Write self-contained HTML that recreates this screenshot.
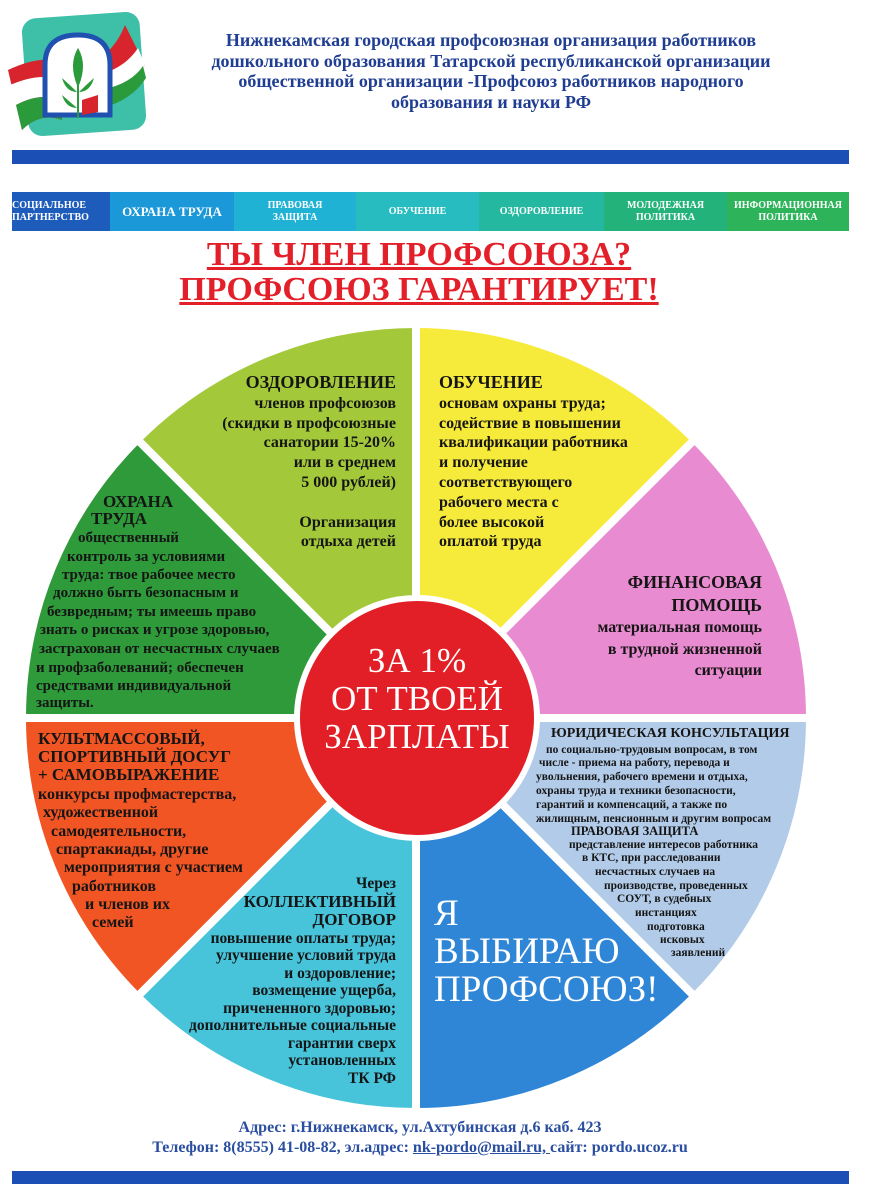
<!DOCTYPE html>
<html><head><meta charset="utf-8">
<style>
body{margin:0;width:873px;height:1200px;background:#fff;position:relative;overflow:hidden;font-family:"Liberation Serif",serif;font-weight:bold;color:#151515}
.a{position:absolute;white-space:nowrap}
.t{position:absolute;white-space:nowrap;font-size:15px;line-height:18px}
.tab{position:absolute;top:192px;height:39px;color:#fff;font-size:10px;line-height:12px;text-align:center;display:flex;align-items:center;justify-content:center}
</style></head><body>
<svg class="a" style="left:0;top:0" width="160" height="140" viewBox="0 0 160 140">
<rect x="25" y="15" width="118" height="118" rx="14" fill="#3dbfa8" transform="rotate(-4 84 74)"/>
<path d="M8 70 Q40 55 60 62 L62 120 Q40 112 22 130 Z" fill="#d8242c"/>
<path d="M10 85 Q40 72 60 80 L60 100 Q40 92 16 105 Z" fill="#fff"/>
<path d="M16 105 Q40 92 60 100 L62 120 Q40 112 22 130 Z" fill="#2a9a3a"/>
<path d="M96 60 Q115 50 125 25 L145 65 Q130 90 100 95 Z" fill="#d8242c"/>
<path d="M98 75 Q125 68 138 48 L145 65 Q130 90 100 95 Z" fill="#fff"/>
<path d="M100 90 Q130 85 143 66 L146 78 Q132 100 102 108 Z" fill="#2a9a3a"/>
<path d="M45 115 L45 65 Q45 35 78 35 Q110 35 110 65 L110 115 Z" fill="#fff" stroke="#2050b0" stroke-width="5"/>
<path d="M78 50 Q70 65 78 85 Q86 65 78 50 Z M78 85 L78 118" fill="#2a9a3a" stroke="#2a9a3a" stroke-width="2"/>
<path d="M62 78 Q70 85 77 92 Q66 92 62 78 Z M94 78 Q86 85 79 92 Q90 92 94 78 Z M62 95 Q70 102 77 108 Q66 108 62 95 Z" fill="#2a9a3a"/>
<path d="M82 100 L98 95 L98 112 L82 115 Z" fill="#d8242c"/>
</svg>
<div class="a" style="left:191px;top:30px;width:600px;text-align:center;color:#1f3d92;font-size:18px;line-height:20.5px">Нижнекамская городская профсоюзная организация работников<br>дошкольного образования Татарской республиканской организации<br>общественной организации -Профсоюз работников народного<br>образования и науки РФ</div>
<div class="a" style="left:12px;top:150px;width:837px;height:14px;background:#1b4fb6"></div>
<div class="tab" style="left:12px;width:98px;background:#1e5cbc;justify-content:flex-start;text-align:left">СОЦИАЛЬНОЕ<br>ПАРТНЕРСТВО</div>
<div class="tab" style="left:110px;width:124px;background:#1a98d8;font-size:13px">ОХРАНА ТРУДА</div>
<div class="tab" style="left:234px;width:122px;background:#1fb2d4">ПРАВОВАЯ<br>ЗАЩИТА</div>
<div class="tab" style="left:356px;width:123px;background:#26bcc0">ОБУЧЕНИЕ</div>
<div class="tab" style="left:479px;width:125px;background:#25b8a0">ОЗДОРОВЛЕНИЕ</div>
<div class="tab" style="left:604px;width:123px;background:#22b27a">МОЛОДЕЖНАЯ<br>ПОЛИТИКА</div>
<div class="tab" style="left:727px;width:122px;background:#2db45a">ИНФОРМАЦИОННАЯ<br>ПОЛИТИКА</div>
<div class="a" style="left:0;width:838px;top:238px;text-align:center;color:#e3202a;font-size:34px;line-height:34px;text-decoration:underline">ТЫ ЧЛЕН ПРОФСОЮЗА?</div>
<div class="a" style="left:0;width:838px;top:273px;text-align:center;color:#e3202a;font-size:34px;line-height:34px;text-decoration:underline">ПРОФСОЮЗ ГАРАНТИРУЕТ!</div>

<svg class="a" style="left:0;top:0" width="873" height="1200">
<g stroke="#fff" stroke-width="8" stroke-linejoin="round">
<path d="M416 718 L416 324 A394 394 0 0 1 694.6 439.4 Z" fill="#f6ea3a"/>
<path d="M416 718 L694.6 439.4 A394 394 0 0 1 810 718 Z" fill="#e98bd0"/>
<path d="M416 718 L810 718 A394 394 0 0 1 694.6 996.6 Z" fill="#b2cbe8"/>
<path d="M416 718 L694.6 996.6 A394 394 0 0 1 416 1112 Z" fill="#2f86d6"/>
<path d="M416 718 L416 1112 A394 394 0 0 1 137.4 996.6 Z" fill="#47c3da"/>
<path d="M416 718 L137.4 996.6 A394 394 0 0 1 22 718 Z" fill="#f05523"/>
<path d="M416 718 L22 718 A394 394 0 0 1 137.4 439.4 Z" fill="#2e9a3a"/>
<path d="M416 718 L137.4 439.4 A394 394 0 0 1 416 324 Z" fill="#a3c83a"/>
</g>
<circle cx="417" cy="718" r="120" fill="#e21f26" stroke="#fff" stroke-width="6"/>
</svg>

<div class="a" style="left:317px;width:200px;top:642px;text-align:center;color:#fff;font-weight:normal;font-size:35px;line-height:38px">ЗА 1%<br>ОТ ТВОЕЙ<br>ЗАРПЛАТЫ</div>

<div class="t" style="right:477px;top:373px;text-align:right;font-size:16px;line-height:19.8px"><span style="font-size:18px">ОЗДОРОВЛЕНИЕ</span><br>членов профсоюзов<br>(скидки в профсоюзные<br>санатории 15-20%<br>или в среднем<br>5 000 рублей)<br>&nbsp;<br>Организация<br>отдыха детей</div>
<div class="t" style="left:439px;top:373px;font-size:16px;line-height:19.8px"><span style="font-size:18px">ОБУЧЕНИЕ</span><br>основам охраны труда;<br>содействие в повышении<br>квалификации работника<br>и получение<br>соответствующего<br>рабочего места с<br>более высокой<br>оплатой труда</div>

<div class="t" style="left:103px;top:493px;font-size:17px">ОХРАНА</div>
<div class="t" style="left:91px;top:510px;font-size:17px">ТРУДА</div>
<div class="t" style="left:78px;top:529px">общественный</div>
<div class="t" style="left:67px;top:548px">контроль за условиями</div>
<div class="t" style="left:62px;top:566px">труда: твое рабочее место</div>
<div class="t" style="left:53px;top:584px">должно быть безопасным и</div>
<div class="t" style="left:47px;top:603px">безвредным; ты имеешь право</div>
<div class="t" style="left:40px;top:621px">знать о рисках и угрозе здоровью,</div>
<div class="t" style="left:39px;top:640px">застрахован от несчастных случаев</div>
<div class="t" style="left:36px;top:659px">и профзаболеваний; обеспечен</div>
<div class="t" style="left:36px;top:677px">средствами индивидуальной</div>
<div class="t" style="left:36px;top:694px">защиты.</div>

<div class="t" style="right:111px;top:572px;text-align:right;font-size:16px;line-height:21.5px"><span style="font-size:18px">ФИНАНСОВАЯ<br>ПОМОЩЬ</span><br>материальная помощь<br>в трудной жизненной<br>ситуации</div>

<div class="t" style="left:38px;top:730px;font-size:17px;line-height:18px">КУЛЬТМАССОВЫЙ,<br>СПОРТИВНЫЙ ДОСУГ<br>+ САМОВЫРАЖЕНИЕ</div>
<div class="t" style="left:38px;top:786px;font-size:16px">конкурсы профмастерства,</div>
<div class="t" style="left:43px;top:804px;font-size:16px">художественной</div>
<div class="t" style="left:51px;top:823px;font-size:16px">самодеятельности,</div>
<div class="t" style="left:56px;top:841px;font-size:16px">спартакиады, другие</div>
<div class="t" style="left:64px;top:859px;font-size:16px">мероприятия с участием</div>
<div class="t" style="left:72px;top:878px;font-size:16px">работников</div>
<div class="t" style="left:85px;top:896px;font-size:16px">и членов их</div>
<div class="t" style="left:92px;top:914px;font-size:16px">семей</div>

<div class="t" style="right:477px;top:875px;text-align:right;font-size:15.5px;line-height:17.5px">Через<br><span style="font-size:17px">КОЛЛЕКТИВНЫЙ<br>ДОГОВОР</span><br>повышение оплаты труда;<br>улучшение условий труда<br>и оздоровление;<br>возмещение ущерба,<br>причененного здоровью;<br>дополнительные социальные<br>гарантии сверх<br>установленных<br>ТК РФ</div>

<div class="a" style="left:434px;top:895px;color:#fff;font-weight:normal;font-size:37px;line-height:38px">Я<br>ВЫБИРАЮ<br>ПРОФСОЮЗ!</div>

<div class="t" style="left:551px;top:726px;font-size:14px;line-height:16px">ЮРИДИЧЕСКАЯ КОНСУЛЬТАЦИЯ</div>
<div class="t" style="left:546px;top:743px;font-size:11.5px;line-height:14px">по социально-трудовым вопросам, в том</div>
<div class="t" style="left:539px;top:756px;font-size:11.5px;line-height:14px">числе - приема на работу, перевода и</div>
<div class="t" style="left:536px;top:770px;font-size:11.5px;line-height:14px">увольнения, рабочего  времени и отдыха,<br>охраны труда и техники безопасности,<br>гарантий и компенсаций, а также по<br>жилищным, пенсионным и другим вопросам</div>
<div class="t" style="left:571px;top:824px;font-size:12.5px;line-height:14px">ПРАВОВАЯ ЗАЩИТА</div>
<div class="t" style="left:569px;top:838px;font-size:11.5px;line-height:14px">представление интересов работника</div>
<div class="t" style="left:582px;top:851px;font-size:11.5px;line-height:14px">в КТС, при расследовании</div>
<div class="t" style="left:595px;top:865px;font-size:11.5px;line-height:14px">несчастных  случаев на</div>
<div class="t" style="left:604px;top:879px;font-size:11.5px;line-height:14px">производстве, проведенных</div>
<div class="t" style="left:617px;top:892px;font-size:11.5px;line-height:14px">СОУТ,  в судебных</div>
<div class="t" style="left:635px;top:906px;font-size:11.5px;line-height:14px">инстанциях</div>
<div class="t" style="left:647px;top:920px;font-size:11.5px;line-height:14px">подготовка</div>
<div class="t" style="left:660px;top:933px;font-size:11.5px;line-height:14px">исковых</div>
<div class="t" style="left:671px;top:946px;font-size:11.5px;line-height:14px">заявлений</div>

<div class="a" style="left:0;width:840px;top:1118px;text-align:center;color:#2a4ea0;font-size:16px;line-height:20px">Адрес: г.Нижнекамск, ул.Ахтубинская д.6 каб. 423<br>Телефон: 8(8555) 41-08-82, эл.адрес: <u>nk-pordo@mail.ru, </u>сайт: pordo.ucoz.ru</div>
<div class="a" style="left:12px;top:1171px;width:837px;height:13px;background:#1b4fb6"></div>
</body></html>
